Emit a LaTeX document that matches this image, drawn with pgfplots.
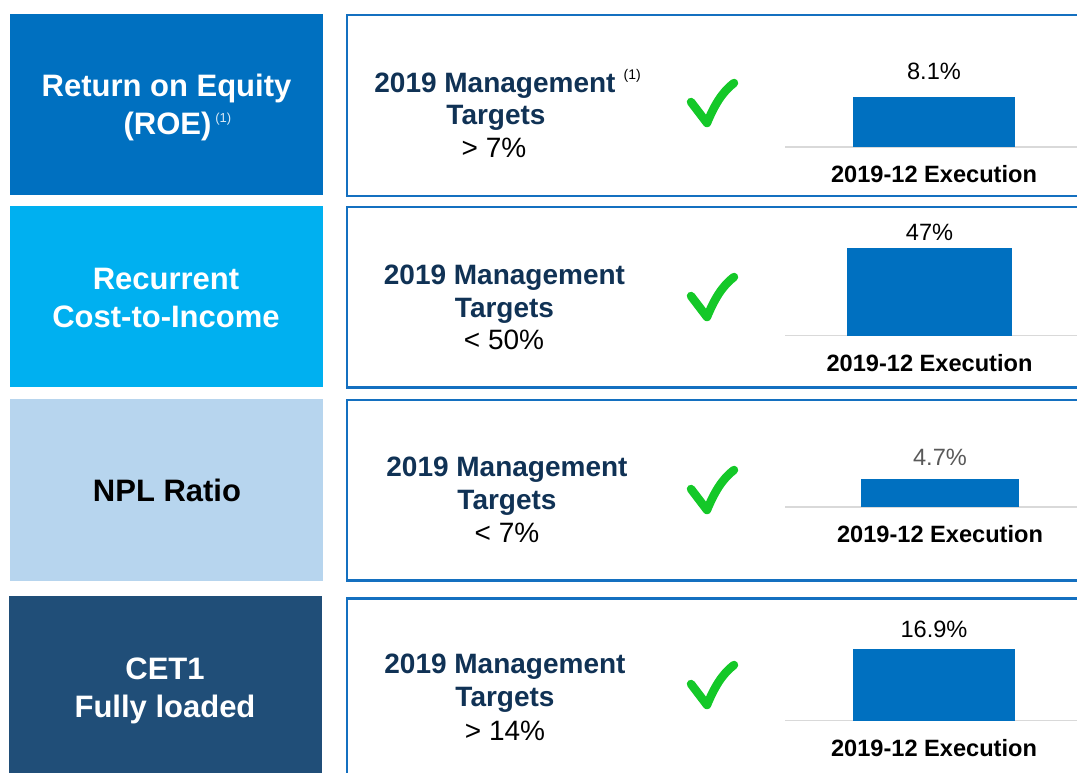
\documentclass[border=0pt]{standalone}
\usepackage{pgfplots}
\pgfplotsset{compat=1.18}
\usepackage{fontspec}
\setmainfont{Liberation Sans}
\definecolor{boxA}{RGB}{0,112,192}
\definecolor{boxB}{RGB}{0,176,240}
\definecolor{boxC}{RGB}{183,213,238}
\definecolor{boxD}{RGB}{32,78,120}
\definecolor{panel}{RGB}{20,112,192}
\definecolor{barblue}{RGB}{0,112,192}
\definecolor{navy}{RGB}{16,50,85}
\definecolor{checkgreen}{RGB}{20,200,40}
\definecolor{basegray}{RGB}{217,217,217}
\newcommand\fs[1]{\fontsize{#1}{#1}\selectfont}
\newcommand\checkmarkat[1]{%
  \draw[checkgreen, line width=8.5pt, line cap=round, line join=round]
    (691,{772-#1+2}) -- (707,{772-#1-19}) .. controls (714,{772-#1-2}) and (722,{772-#1+12}) .. (734,{772-#1+21});}
\pgfplotsset{
  execbar/.style={
    anchor=south west, scale only axis, width=292pt, height=100pt,
    xmin=0, xmax=292, ymin=0,
    axis y line=none, axis x line*=bottom,
    x axis line style={basegray, line width=1.3pt, -},
    major tick length=0pt, ytick=\empty,
    xticklabels={2019-12 Execution},
    xticklabel style={font=\fs{23.6}\bfseries, anchor=base, yshift=-36pt, inner sep=0pt},
    ybar, clip=false,
    nodes near coords={\pgfmathprintnumber[assume math mode=true,fixed,precision=1]{\pgfplotspointmeta}\%},
  },
}
\begin{document}
\begin{tikzpicture}[x=1pt,y=1pt]
\useasboundingbox (0,0) rectangle (1077,772);
\clip (0,0) rectangle (1077,772);
% left boxes
\fill[boxA] (10,{772-14}) rectangle (323,{772-195});
\fill[boxB] (10,{772-206}) rectangle (323,{772-387});
\fill[boxC] (10,{772-399}) rectangle (323,{772-581});
\fill[boxD] (9,{772-596}) rectangle (322,-5);
\node[anchor=base, white, font=\fs{31}\bfseries, inner sep=0pt] at (166.5,{772-97}) {Return on Equity};
\node[anchor=base, white, font=\fs{31}\bfseries, inner sep=0pt] at (167.5,{772-135}) {(ROE)\rlap{\hspace{4pt}\raisebox{12pt}{\fs{13}\mdseries\color{white!85!boxA}(1)}}};
\node[anchor=base, white, font=\fs{31}\bfseries, inner sep=0pt] at (166,{772-290}) {Recurrent};
\node[anchor=base, white, font=\fs{31}\bfseries, inner sep=0pt] at (166,{772-328}) {Cost-to-Income};
\node[anchor=base, black, font=\fs{31}\bfseries, inner sep=0pt] at (167,{772-502}) {NPL Ratio};
\node[anchor=base, white, font=\fs{31}\bfseries, inner sep=0pt] at (165,{772-679}) {CET1};
\node[anchor=base, white, font=\fs{31}\bfseries, inner sep=0pt] at (165,{772-717}) {Fully loaded};
% right panels
\draw[panel, line width=2.6pt] (347,{772-15}) rectangle (1100,{772-196});
\draw[panel, line width=2.6pt] (347,{772-207}) rectangle (1100,{772-387.5});
\draw[panel, line width=2.6pt] (347,{772-400}) rectangle (1100,{772-580.5});
\draw[panel, line width=2.6pt] (347,{772-598.5}) rectangle (1100,-20);
% target texts
\node[anchor=base, navy, font=\fs{28}\bfseries, inner sep=0pt] at (495,{772-93}) {2019 Management\rlap{\hspace{8pt}\raisebox{13pt}{\fs{14}\mdseries\color{black}(1)}}};
\node[anchor=base, navy, font=\fs{28}\bfseries, inner sep=0pt] at (496,{772-125}) {Targets};
\node[anchor=base, black, font=\fs{28}, inner sep=0pt] at (494,{772-158}) {> 7\%};
\node[anchor=base, navy, font=\fs{28}\bfseries, inner sep=0pt] at (504.5,{772-285}) {2019 Management};
\node[anchor=base, navy, font=\fs{28}\bfseries, inner sep=0pt] at (504.5,{772-318}) {Targets};
\node[anchor=base, black, font=\fs{28}, inner sep=0pt] at (504,{772-350}) {< 50\%};
\node[anchor=base, navy, font=\fs{28}\bfseries, inner sep=0pt] at (507,{772-477}) {2019 Management};
\node[anchor=base, navy, font=\fs{28}\bfseries, inner sep=0pt] at (507,{772-510}) {Targets};
\node[anchor=base, black, font=\fs{28}, inner sep=0pt] at (507,{772-543}) {< 7\%};
\node[anchor=base, navy, font=\fs{28}\bfseries, inner sep=0pt] at (505,{772-673}) {2019 Management};
\node[anchor=base, navy, font=\fs{28}\bfseries, inner sep=0pt] at (505,{772-706}) {Targets};
\node[anchor=base, black, font=\fs{28}, inner sep=0pt] at (505,{772-740}) {> 14\%};
% checks
\checkmarkat{104}
\checkmarkat{298}
\checkmarkat{491}
\checkmarkat{686}
% bar charts
\begin{axis}[execbar, at={(785pt,625pt)}, ymax=16.36, xtick={149}, bar width=162pt,
  nodes near coords style={font=\fs{23.6}, anchor=base, yshift=17.6pt, inner sep=0pt}]
\addplot[fill=barblue, draw=none] coordinates {(149,8.1)};
\end{axis}
\begin{axis}[execbar, at={(785pt,436.3pt)}, ymax=53.8, xtick={144.5}, bar width=165pt,
  nodes near coords style={font=\fs{23.6}, anchor=base, yshift=8.3pt, inner sep=0pt}]
\addplot[fill=barblue, draw=none] coordinates {(144.5,47)};
\end{axis}
\begin{axis}[execbar, at={(785pt,265pt)}, ymax=16.5, xtick={155}, bar width=158pt,
  nodes near coords style={font=\fs{23.6}, anchor=base, yshift=13.3pt, inner sep=0pt, text={rgb,255:red,89;green,89;blue,89}}]
\addplot[fill=barblue, draw=none] coordinates {(155,4.7)};
\end{axis}
\begin{axis}[execbar, at={(785pt,51.3pt)}, ymax=23.58, xtick={149}, bar width=162pt,
  nodes near coords style={font=\fs{23.6}, anchor=base, yshift=12pt, inner sep=0pt}]
\addplot[fill=barblue, draw=none] coordinates {(149,16.9)};
\end{axis}
\end{tikzpicture}
\end{document}
